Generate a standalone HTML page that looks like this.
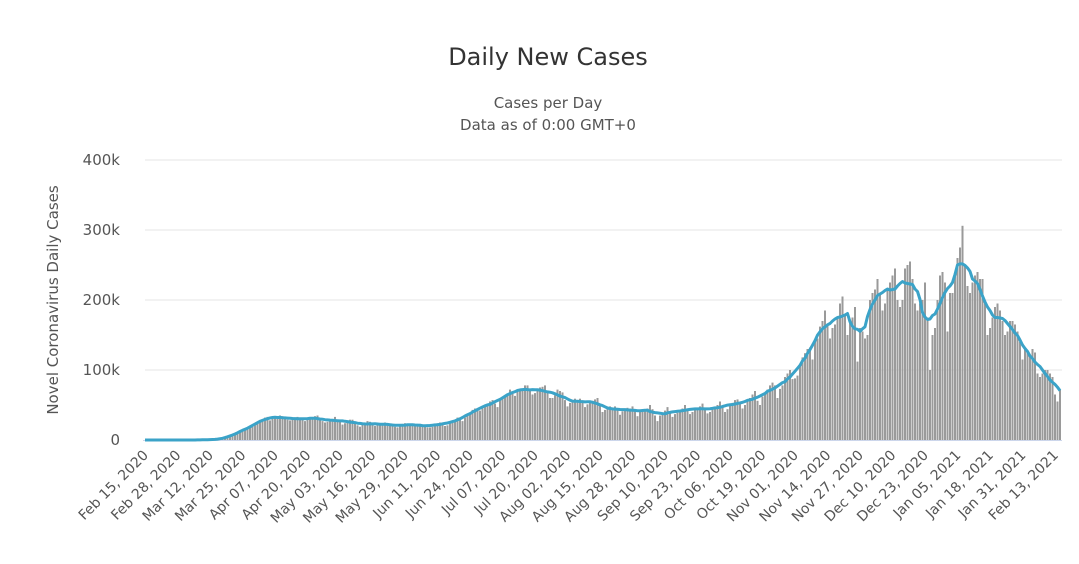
<!DOCTYPE html>
<html><head><meta charset="utf-8"><style>
body{margin:0;background:#fff;font-family:"Liberation Sans","DejaVu Sans",sans-serif;}
svg text{font-family:"DejaVu Sans","Liberation Sans",sans-serif;}
</style></head><body>
<svg id="chart" width="1079" height="559" xmlns="http://www.w3.org/2000/svg">
<text x="548" y="65" text-anchor="middle" font-size="24" fill="#333">Daily New Cases</text>
<text x="548" y="108" text-anchor="middle" font-size="15" fill="#555">Cases per Day</text>
<text x="548" y="130" text-anchor="middle" font-size="15" fill="#555">Data as of 0:00 GMT+0</text>
<text transform="translate(58,300) rotate(-90)" text-anchor="middle" font-size="15" fill="#555">Novel Coronavirus Daily Cases</text>
<g id="grid"></g><g id="bars"></g><g id="line"></g><g id="xlabels"></g>
</svg>
<script>
const yTicks=[0,100,200,300,400];
const yTickLabels=["0","100k","200k","300k","400k"];
const startDate=[2020,1,15];
const labelEvery=13;
const dailyCases=[
0,0,0,0,0,0,0, 0,0,0,0,0,0,0, 0,0,0,0,0,0,0,
0.1,0.1,0.2,0.3,0.4,0.5,0.6, 0.8,0.9,1.2,1.8,2.8,4.5,5.5,
7,9,10,11,13,17,18, 19,19,21,25,27,30,32, 33,28,31,32,34,35,34,
31,29,28,30,32,33,32, 30,27,29,30,32,34,35, 31,27,25,26,30,29,33,
29,26,22,24,28,29,29, 26,21,19,22,22,27,26, 24,20,21,21,23,25,24,
23,21,19,18,20,23,24, 23,20,21,21,20,23,22, 22,18,18,19,22,24,25,
25,20,21,25,26,28,32, 32,27,32,35,39,43,45, 43,42,45,48,52,55,57,
52,47,58,62,64,66,72, 68,63,69,73,72,78,78, 71,65,67,70,75,76,78,
68,60,60,64,72,70,68, 57,48,53,56,59,57,59, 56,47,51,55,56,58,60,
50,40,43,45,48,46,48, 45,36,41,43,46,45,48, 42,34,40,41,43,45,50,
44,35,27,35,38,42,47, 40,33,37,39,43,45,50, 43,37,40,45,46,48,52,
43,38,40,44,46,50,55, 48,40,44,52,53,57,58, 51,45,50,56,60,65,70,
56,50,62,65,72,78,82, 78,60,73,78,90,95,100, 87,88,92,108,118,124,130,
132,115,140,145,162,170,185, 165,145,160,165,175,195,205, 180,150,170,175,190,112,160,
155,145,150,200,210,215,230, 210,185,195,215,225,235,245, 200,190,200,245,250,255,230,
195,185,195,200,225,175,100, 150,160,200,235,240,225,155, 210,210,240,260,275,306,250,
220,210,225,235,240,230,230, 195,150,160,175,190,195,185, 170,150,155,170,170,165,155,
140,115,130,125,120,130,125, 95,90,95,100,100,95,90, 65,55,72
];
const NS="http://www.w3.org/2000/svg";
const x0=145,x1=1060,yBase=440,yTop=160,yMax=400;
const n=dailyCases.length;
const xs=i=>x0+i*(x1-x0)/(n-1);
const ys=v=>yBase-v*(yBase-yTop)/yMax;
function mk(t,a){const e=document.createElementNS(NS,t);for(const k in a)e.setAttribute(k,a[k]);return e;}
const grid=document.getElementById('grid');
yTicks.forEach((t,i)=>{
  if(i>0){const l=mk('line',{x1:x0,x2:x1+2,y1:ys(t),y2:ys(t),stroke:'#e6e6e6','stroke-width':1});
  
  
  grid.appendChild(l);}
  const tx=mk('text',{x:120,y:ys(t)+5,'text-anchor':'end','font-size':15,fill:'#555'});
  tx.textContent=yTickLabels[i];
  
  
  grid.appendChild(tx);
});
const bars=document.getElementById('bars');
dailyCases.forEach((v,i)=>{
  const r=mk('rect',{x:xs(i)-1,y:ys(v),width:2,height:yBase-ys(v),fill:'#9a9a9a'});
  
  
  bars.appendChild(r);
});
const ax=mk('line',{x1:x0-2,x2:x1+2,y1:yBase+0.5,y2:yBase+0.5,stroke:'#ccd6eb','stroke-width':1});


bars.appendChild(ax);
// centered 7-day moving average
let pts=[];
for(let i=0;i<n;i++){let s=0,c=0;for(let j=Math.max(0,i-3);j<=Math.min(n-1,i+3);j++){s+=dailyCases[j];c++;}pts.push([xs(i),ys(s/c)]);}
let d='M'+pts[0][0]+','+pts[0][1];
for(let i=1;i<pts.length;i++)d+=' L'+pts[i][0].toFixed(1)+','+pts[i][1].toFixed(1);
const p=mk('path',{d:d,fill:'none',stroke:'#3ba3c8','stroke-width':3,'stroke-linejoin':'round'});


document.getElementById('line').appendChild(p);
const mon=["Jan","Feb","Mar","Apr","May","Jun","Jul","Aug","Sep","Oct","Nov","Dec"];
const xl=document.getElementById('xlabels');
for(let i=0;i<n;i+=labelEvery){
  const dt=new Date(Date.UTC(startDate[0],startDate[1],startDate[2]+i));
  const s=mon[dt.getUTCMonth()]+' '+String(dt.getUTCDate()).padStart(2,'0')+', '+dt.getUTCFullYear();
  const x=xs(i)+4,y=yBase+16;
  const t=mk('text',{x:x,y:y,'text-anchor':'end','font-size':14,fill:'#555',transform:`rotate(-45 ${x} ${y})`});
  t.textContent=s;
  
  
  xl.appendChild(t);
}
</script>
</body></html>
